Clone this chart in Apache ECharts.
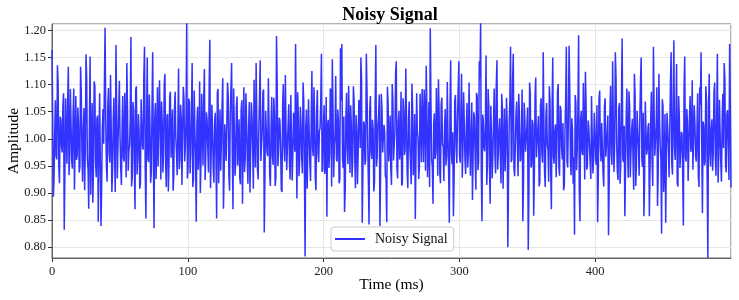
<!DOCTYPE html>
<html>
<head>
<meta charset="utf-8">
<script src="https://cdn.jsdelivr.net/npm/echarts@6/dist/echarts.min.js"></script>
<style>html,body{margin:0;padding:0;background:#fff}#c{width:739px;height:300px}</style>
</head>
<body>
<div id="c"></div>
<script>
// Amplitude samples (even samples: segA*, odd samples: segB*)
const segA0 = [
1.164,0.893,1.012,0.968,1.136,0.947,1.041,0.986,1.062,0.832,1.075,0.954,1.133,0.971,1.028,0.945,1.093,0.992,0.961,1.058,
0.938,1.133,0.976,1.019,0.905,1.156,0.962,0.871,1.152,1.004,0.882,1.106,0.958,1.037,0.847,1.084,0.839,1.022,0.991,1.205,
0.948,1.061,0.974,1.118,0.902,1.035,0.966,1.173,0.927,1.049,1.003,0.915,1.079,0.958,1.026,1.140,0.941,0.989,1.188,0.931,
1.052,0.870,1.097,0.963,1.015,0.918,1.071,0.980,1.170,0.853,1.150,0.957,1.024,0.939,1.160,0.835,1.066,0.994,0.949,1.108,
0.925,1.031,0.977,1.120,0.911,1.046,0.958,1.087,0.966,0.904,1.055,1.002,0.933,1.130,0.961,1.038,0.912,1.074,0.985,1.215];
const segA1 = [
0.948,1.067,0.973,1.140,0.926,1.018,0.847,1.059,0.982,0.900,1.083,0.951,1.129,0.967,1.034,0.938,1.183,0.974,1.011,0.919,
1.048,0.853,1.092,0.986,0.941,1.063,0.871,1.027,0.959,1.104,0.932,1.045,1.140,0.870,1.016,0.955,1.078,0.990,0.928,1.052,
0.880,1.095,0.964,1.031,0.917,1.068,0.979,1.042,0.908,1.003,1.140,0.945,1.020,1.145,0.961,1.086,0.827,1.052,0.976,1.112,
0.934,1.025,0.968,1.076,0.913,1.190,0.950,1.039,0.987,0.902,1.101,0.958,1.017,0.941,1.064,0.925,1.083,0.971,1.008,1.175,
0.890,1.046,0.963,1.029,0.936,1.072,0.783,1.054,0.977,1.011,0.922,1.125,0.968,1.037,0.905,1.090,0.957,1.020,1.157,0.943];
const segA2 = [
1.062,0.951,0.856,1.035,0.972,1.088,1.147,0.929,1.010,0.963,1.054,0.918,1.167,1.175,0.946,0.865,1.041,0.983,1.098,0.937,
1.024,0.958,1.072,0.909,1.015,0.974,1.061,1.150,0.845,1.032,0.952,1.157,0.996,0.842,1.079,0.963,1.018,0.921,1.173,0.967,
1.044,0.839,1.083,0.975,1.026,0.931,0.846,1.067,0.989,0.944,1.101,0.960,1.013,1.143,0.927,1.052,0.981,0.914,1.075,0.970,
1.130,0.939,1.036,0.985,0.916,1.058,0.967,0.852,1.084,1.001,0.948,1.029,1.092,0.957,1.041,1.135,0.929,1.068,1.204,0.962,
0.880,1.047,0.975,1.019,1.110,0.936,1.063,0.990,0.922,1.055,0.968,1.008,0.845,1.145,0.953,0.857,1.071,0.984,1.036,1.143];
const segA3 = [
0.956,1.120,0.981,1.027,0.935,1.066,0.972,1.014,0.929,0.887,1.049,0.963,1.085,0.942,1.143,1.215,0.848,1.032,0.977,1.154,
0.951,1.062,0.880,1.004,0.969,1.093,0.936,1.145,0.973,1.038,0.918,1.057,0.985,0.940,1.076,0.800,1.028,1.170,0.962,1.157,
0.931,1.046,0.992,1.083,0.958,1.011,0.848,1.067,0.976,1.022,0.795,1.104,0.947,1.035,0.858,1.079,0.966,1.018,0.912,1.061,
0.973,1.160,0.938,1.044,0.989,0.921,1.072,0.870,1.150,0.954,1.027,0.983,1.101,0.932,1.053,0.962,0.905,1.014,1.170,0.947,
1.172,0.958,1.038,0.917,0.823,1.065,0.979,1.191,0.848,1.052,0.970,1.011,1.124,0.943,1.034,0.987,0.926,1.082,0.961,1.019];
const segA4 = [
0.952,0.846,1.073,0.984,1.029,0.935,1.058,0.967,1.012,0.822,1.047,0.973,1.143,0.939,1.160,0.991,0.924,1.066,0.955,1.185,
0.957,0.857,1.041,0.976,1.088,0.929,1.015,0.962,1.120,0.913,1.052,0.984,1.037,1.150,0.948,0.857,1.069,0.971,1.021,0.857,
1.034,0.958,1.170,0.969,1.023,0.876,1.120,0.987,0.825,1.061,0.946,0.845,1.048,0.982,1.015,1.160,0.934,1.182,0.961,1.138,
0.912,1.043,0.976,1.009,0.840,1.152,0.958,1.031,0.925,1.079,0.987,0.943,1.062,0.968,1.017,0.931,1.095,1.160,0.863,1.024,
0.959,1.071,0.780,1.120,0.949,1.036,0.978,1.104,0.932,1.157,0.967,1.012,0.921,1.083,1.140,0.951,1.045,0.989,1.175,0.910];

const segB0 = [
1.048,0.927,1.071,0.962,1.103,0.918,1.036,0.975,1.084,0.941,1.012,1.067,0.933,1.092,0.958,1.044,0.906,1.079,0.969,1.025,
0.948,1.088,0.921,1.057,0.984,1.112,0.943,1.031,0.897,1.066,0.952,1.098,0.929,1.043,0.975,1.081,0.914,1.055,0.993,1.036,
0.921,1.094,0.956,1.027,0.938,1.076,0.902,1.059,0.987,1.107,0.946,1.018,0.965,1.085,0.929,1.052,0.977,1.039,0.912,1.068,
0.955,1.091,0.934,1.046,0.908,1.073,0.986,1.115,0.947,1.029,0.963,1.082,0.919,1.058,0.971,1.037,0.926,1.095,0.952,1.021,
1.069,0.938,1.101,0.957,1.042,0.903,1.078,0.965,1.054,0.931,1.087,0.974,1.019,0.944,1.063,0.915,1.096,0.958,1.034,0.927];
const segB1 = [
1.074,0.936,1.052,0.911,1.089,0.967,1.028,0.943,1.106,0.956,1.017,1.075,0.924,1.049,0.982,1.097,0.909,1.063,0.945,1.031,
0.968,1.085,0.918,1.054,0.993,1.112,0.937,1.026,0.961,1.079,0.904,1.047,0.974,1.093,0.932,1.058,0.951,1.036,0.916,1.071,
1.005,0.939,1.084,0.962,1.021,0.901,1.067,0.978,1.109,0.947,1.038,0.925,1.072,0.959,1.016,1.091,0.934,1.055,0.968,1.028,
0.913,1.077,0.952,1.043,0.928,1.099,0.971,1.034,0.906,1.062,0.985,1.118,0.942,1.025,0.957,1.081,0.923,1.048,0.976,1.013,
1.086,0.931,1.059,0.964,1.104,0.947,1.022,0.908,1.073,0.955,1.039,0.982,1.095,0.926,1.051,0.973,1.014,1.068,0.939,1.027];
const segB2 = [
0.935,1.077,1.022,0.946,1.093,0.912,1.056,0.987,1.116,0.958,1.033,0.925,1.071,0.964,1.041,0.908,1.085,0.953,1.019,1.062,
0.929,1.097,0.967,1.044,0.916,1.072,0.983,1.108,0.943,1.027,0.961,1.089,0.922,1.053,0.976,1.035,0.903,1.066,0.949,1.024,
1.082,0.937,1.058,0.972,1.011,0.927,1.096,0.958,1.043,0.915,1.074,0.988,1.119,0.946,1.031,0.962,1.087,0.918,1.052,0.979,
1.038,0.909,1.069,0.954,1.102,0.933,1.046,0.971,1.014,0.926,1.083,0.957,1.036,1.091,0.941,1.057,0.978,0.911,1.065,0.949,
1.028,0.963,1.094,0.932,1.047,0.918,1.076,0.986,1.023,0.951,1.105,0.939,1.061,0.974,1.012,0.924,1.081,0.955,1.037,0.968];
const segB3 = [
1.053,0.928,1.086,0.961,1.021,0.947,1.104,0.932,1.067,0.974,1.039,0.906,1.078,0.958,1.112,0.936,1.045,0.983,1.024,0.915,
1.092,0.951,1.061,0.927,1.034,0.972,1.098,0.943,1.017,0.965,1.083,0.908,1.056,0.989,1.031,0.923,1.074,0.957,1.108,0.946,
0.985,1.069,0.931,1.046,0.962,1.091,0.918,1.037,0.975,1.058,0.903,1.084,0.952,1.026,0.937,1.113,0.964,1.042,0.921,1.075,
0.956,1.033,0.911,1.066,0.979,1.097,0.938,1.052,0.967,1.015,0.929,1.087,0.948,1.061,0.984,1.029,0.914,1.072,0.959,1.044,
1.095,0.933,1.018,0.966,1.081,0.942,1.057,0.907,1.036,0.977,1.103,0.925,1.064,0.951,1.022,0.988,1.079,0.936,1.048,0.961];
const segB4 = [
1.062,0.934,1.089,0.958,1.027,0.912,1.075,0.969,1.043,0.921,1.098,0.952,1.031,0.986,1.114,0.939,1.056,0.917,1.071,0.963,
1.024,0.947,1.093,0.928,1.059,0.975,1.037,0.906,1.082,0.954,1.016,0.932,1.106,0.961,1.048,0.924,1.068,0.981,1.029,0.944,
1.087,0.913,1.052,0.972,1.095,0.937,1.034,0.959,1.073,0.902,1.046,0.968,1.021,0.929,1.101,0.953,1.066,0.985,1.038,0.918,
1.079,0.946,1.013,0.934,1.092,0.967,1.055,0.922,1.041,0.976,1.108,0.943,1.027,0.958,1.084,0.911,1.063,0.989,1.032,0.951,
1.097,0.926,1.058,0.973,1.019,0.941,1.086,0.964,1.044,0.919,1.072,0.956,1.035,0.983,1.111,0.938,1.053,0.924,1.067];

const tStart = 0, tEnd = 500;           // time span in ms
const xTicks = [0, 100, 200, 300, 400];
const seriesName = 'Noisy Signal';

const evenSamples = [].concat(segA0, segA1, segA2, segA3, segA4);
const oddSamples = [].concat(segB0, segB1, segB2, segB3, segB4);
const amplitude = [];
evenSamples.forEach((v, i) => { amplitude.push(v); if (i < oddSamples.length) amplitude.push(oddSamples[i]); });

const n = amplitude.length;
const points = amplitude.map((v, i) => [tStart + (tEnd - tStart) * i / (n - 1), v]);

const serif = '"Liberation Serif", "DejaVu Serif", serif';
const chart = echarts.init(document.getElementById('c'), null, {renderer: 'canvas'});
chart.setOption({
  animation: false,
  backgroundColor: '#fff',
  title: {
    text: 'Noisy Signal', left: 390, top: 6, padding: 0, textAlign: 'center',
    textStyle: {fontFamily: serif, fontWeight: 'bold', fontSize: 18, color: '#000'}
  },
  grid: {left: 52, right: 8, top: 24, bottom: 42, containLabel: false, outerBoundsMode: 'none',
    show: true, borderColor: '#666', borderWidth: 1, backgroundColor: 'transparent'},
  legend: {
    data: [seriesName], left: 331, top: 227, orient: 'horizontal',
    icon: 'rect', itemWidth: 30, itemHeight: 2, itemGap: 8,
    padding: [5, 6, 5, 4],
    backgroundColor: 'rgba(255,255,255,0.85)', borderColor: '#ccc', borderWidth: 1, borderRadius: 3,
    textStyle: {fontFamily: serif, fontSize: 14, color: '#111', padding: [0, 0, 0, 5]}
  },
  xAxis: {
    type: 'value', min: tStart, max: tEnd, interval: 100,
    name: 'Time (ms)', nameLocation: 'middle', nameGap: 27, nameMoveOverlap: false,
    nameTextStyle: {fontFamily: serif, fontSize: 15.5, color: '#000', verticalAlign: 'middle'},
    axisLine: {show: true, onZero: false, lineStyle: {color: '#666'}},
    axisTick: {show: true, inside: false, length: 4, lineStyle: {color: '#333'}},
    axisLabel: {fontFamily: serif, fontSize: 12.5, color: '#222', margin: 7, showMaxLabel: false,
      formatter: v => xTicks.includes(v) ? String(v) : ''},
    splitLine: {show: true, lineStyle: {color: '#e6e6e6', width: 1}}
  },
  yAxis: {
    type: 'value', min: 0.78, max: 1.212, minInterval: 0.05, maxInterval: 0.05, splitNumber: 8,
    name: 'Amplitude', nameLocation: 'middle', nameGap: 38, nameRotate: 90, nameMoveOverlap: false,
    nameTextStyle: {fontFamily: serif, fontSize: 15.5, color: '#000', verticalAlign: 'middle'},
    axisLine: {show: true, onZero: false, lineStyle: {color: '#666'}},
    axisTick: {show: true, inside: false, length: 4, lineStyle: {color: '#333'}},
    axisLabel: {fontFamily: serif, fontSize: 12.5, color: '#222', margin: 6, formatter: v => v.toFixed(2)},
    splitLine: {show: true, lineStyle: {color: '#e6e6e6', width: 1}}
  },
  series: [{
    name: seriesName, type: 'line', data: points, showSymbol: false, symbol: 'none',
    sampling: false, lineStyle: {color: '#3333ff', width: 1.5}, itemStyle: {color: '#3333ff'},
    clip: true, z: 3
  }]
});
</script>
</body>
</html>
